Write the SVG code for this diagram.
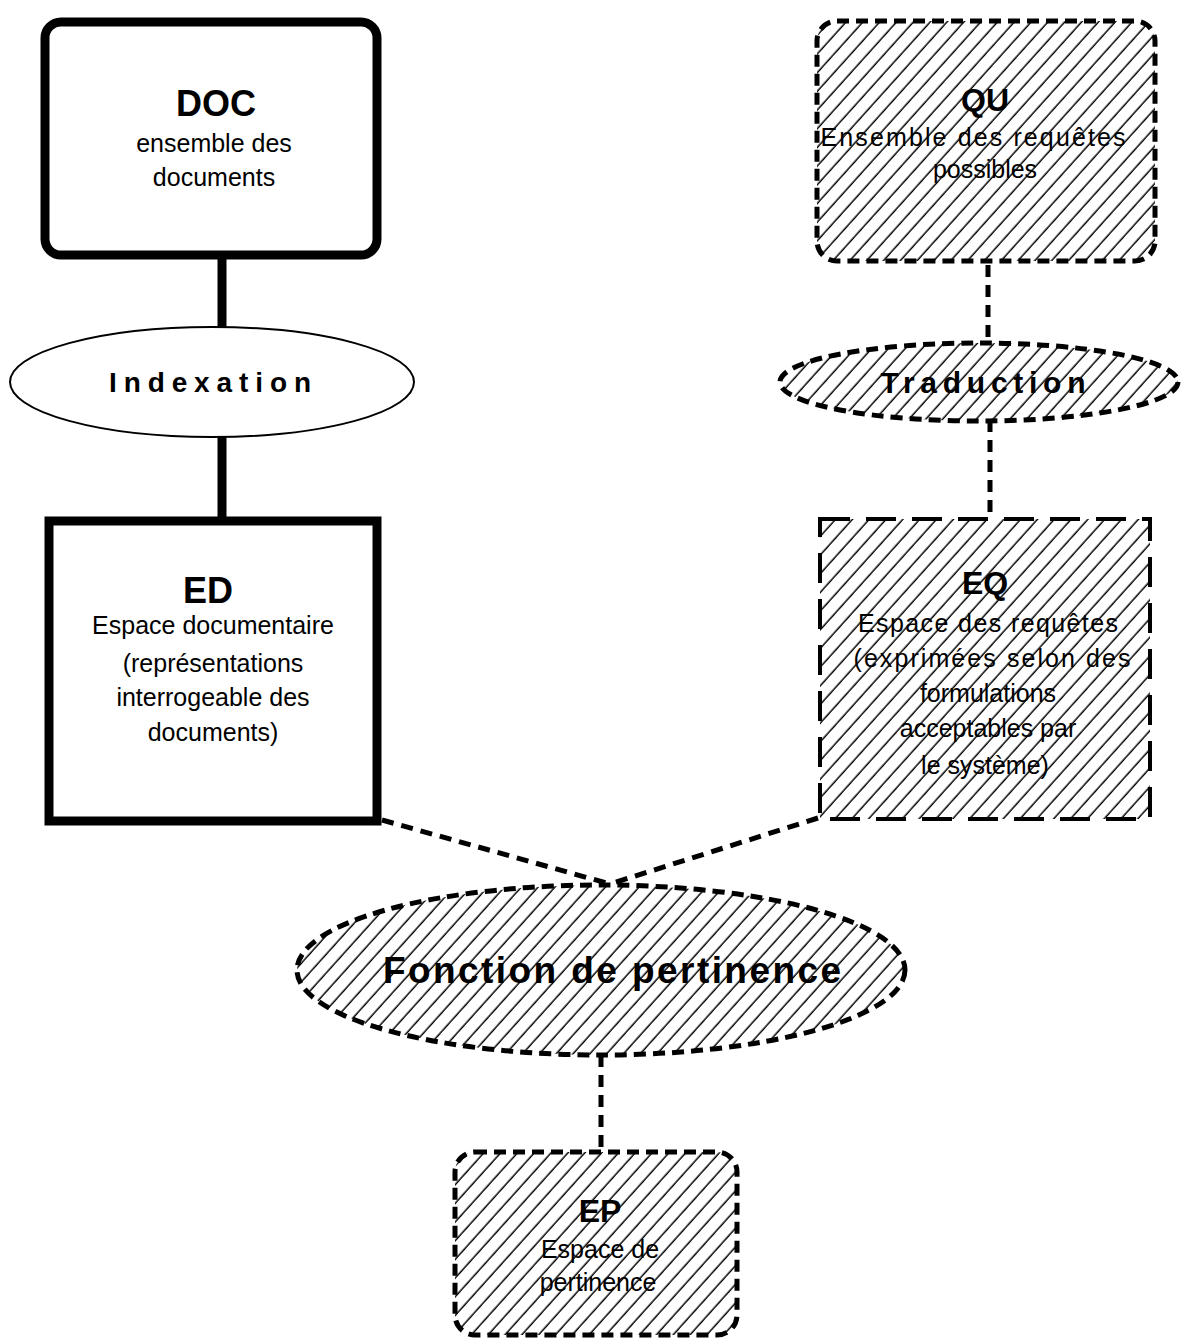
<svg xmlns="http://www.w3.org/2000/svg" width="1182" height="1340" viewBox="0 0 1182 1340">
<style>
  .solid{fill:#fff;stroke:#000;stroke-width:9;stroke-linejoin:round}
  .hatch{fill:url(#h);stroke:#000;stroke-width:5;stroke-dasharray:12 7}
  .thin{fill:#fff;stroke:#000;stroke-width:2}
  .t{font-family:"Liberation Sans",Arial,sans-serif;fill:#000;text-anchor:middle}
  .title{font-weight:bold;font-size:36px}
  .body{font-size:25px}
  .hbody{font-size:25px}
  .con{fill:none;stroke:#000;stroke-width:5}
  .dash{stroke-dasharray:12 8}
</style>
<defs>
  <pattern id="h" width="12.5" height="12.5" patternUnits="userSpaceOnUse" patternTransform="rotate(42)">
    <rect width="12.5" height="12.5" fill="#fff"/>
    <line x1="6" y1="0" x2="6" y2="12.5" stroke="#000" stroke-width="1.5"/>
  </pattern>
</defs>
<g id="connectors">
  <line class="con" x1="222" y1="258" x2="222" y2="330" style="stroke-width:9"/>
  <line class="con" x1="222" y1="436" x2="222" y2="520" style="stroke-width:9"/>
  <line class="con dash" x1="988" y1="265" x2="988" y2="345"/>
  <line class="con dash" x1="990" y1="420" x2="990" y2="517"/>
  <line class="con dash" x1="382" y1="820" x2="610" y2="884"/>
  <line class="con dash" x1="818" y1="818" x2="610" y2="884"/>
  <line class="con dash" x1="601" y1="1055" x2="601" y2="1150"/>
</g>
<g id="DOC">
  <rect class="solid" x="45" y="22" width="332" height="233" rx="16"/>
  <text class="t title" x="216" y="116">DOC</text>
  <text class="t body" x="214" y="152">ensemble des</text>
  <text class="t body" x="214" y="186">documents</text>
</g>
<g id="Indexation">
  <ellipse class="thin" cx="212" cy="382" rx="202" ry="55"/>
  <text class="t" x="210" y="392" style="font-weight:bold;font-size:28px" textLength="202" lengthAdjust="spacing">Indexation</text>
</g>
<g id="ED">
  <rect class="solid" x="49" y="521" width="328" height="300" style="stroke-linejoin:miter"/>
  <text class="t title" x="208" y="603">ED</text>
  <text class="t body" x="213" y="634">Espace documentaire</text>
  <text class="t body" x="213" y="672">(représentations</text>
  <text class="t body" x="213" y="706">interrogeable des</text>
  <text class="t body" x="213" y="741">documents)</text>
</g>
<g id="QU">
  <rect class="hatch" x="817" y="21" width="338" height="240" rx="20"/>
  <text class="t title" x="985" y="111" style="font-size:32px">QU</text>
  <text class="t hbody" x="973" y="146" textLength="305" lengthAdjust="spacing">Ensemble des requêtes</text>
  <text class="t hbody" x="985" y="178">possibles</text>
</g>
<g id="Traduction">
  <ellipse class="hatch" cx="979" cy="382" rx="199" ry="39"/>
  <text class="t" x="983" y="393" style="font-weight:bold;font-size:30px" textLength="205" lengthAdjust="spacing">Traduction</text>
</g>
<g id="EQ">
  <rect class="hatch" x="820" y="519" width="330" height="300" style="stroke-width:4;stroke-dasharray:30 16"/>
  <text class="t title" x="985" y="594" style="font-size:32px">EQ</text>
  <text class="t hbody" x="988" y="632" textLength="260" lengthAdjust="spacing">Espace des requêtes</text>
  <text class="t hbody" x="992" y="667" textLength="277" lengthAdjust="spacing">(exprimées selon des</text>
  <text class="t hbody" x="988" y="702">formulations</text>
  <text class="t hbody" x="988" y="737">acceptables par</text>
  <text class="t hbody" x="985" y="774">le système)</text>
</g>
<g id="Fonction">
  <ellipse class="hatch" cx="601" cy="970" rx="304" ry="85"/>
  <text class="t" x="612" y="983" style="font-weight:bold;font-size:37px" textLength="458" lengthAdjust="spacing">Fonction de pertinence</text>
</g>
<g id="EP">
  <rect class="hatch" x="455" y="1152" width="282" height="183" rx="20"/>
  <text class="t title" x="600" y="1222" style="font-size:32px">EP</text>
  <text class="t hbody" x="600" y="1258">Espace de</text>
  <text class="t hbody" x="598" y="1291">pertinence</text>
</g>
</svg>
